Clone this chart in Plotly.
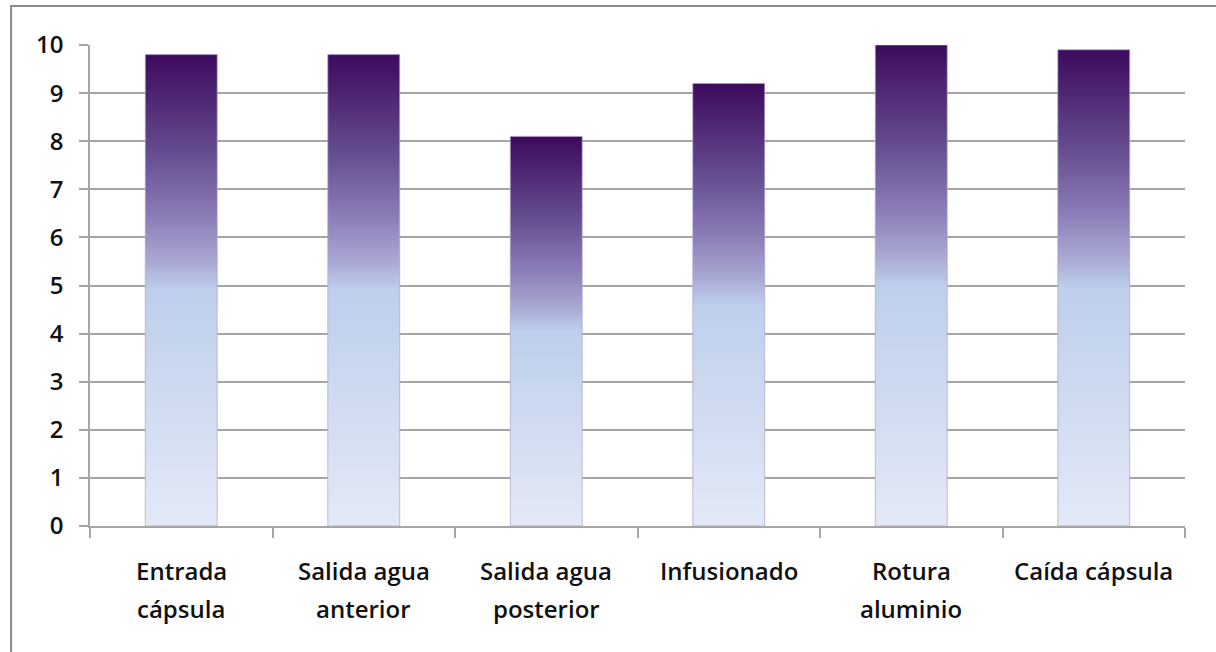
import plotly.graph_objects as go

# Data
label_line1 = ["Entrada", "Salida agua", "Salida agua", "Infusionado", "Rotura", "Caída cápsula"]
label_line2 = ["cápsula", "anterior", "posterior", "", "aluminio", ""]
values = [9.8, 9.8, 8.1, 9.2, 10.0, 9.9]
y_ticks = list(range(0, 11))

gradient = [
    [0.0, "#e3e9f6"],
    [0.3, "#cdd9f0"],
    [0.5, "#bdcfec"],
    [0.56, "#aaa9d4"],
    [0.66, "#8a7bb5"],
    [0.8, "#634a8d"],
    [1.0, "#3d0a5d"],
]

half_w = 0.197
fig = go.Figure()
for i, v in enumerate(values):
    fig.add_trace(go.Scatter(
        x=[i - half_w, i - half_w, i + half_w, i + half_w, i - half_w],
        y=[0, v, v, 0, 0],
        mode="lines",
        fill="toself",
        fillgradient=dict(type="vertical", colorscale=gradient),
        line=dict(color="rgba(175,160,210,0.7)", width=1),
        hoverinfo="skip",
        showlegend=False,
    ))

font_family = "Open Sans"
label_font = dict(family=font_family, size=24, color="#111111", weight=600)
for i, (l1, l2) in enumerate(zip(label_line1, label_line2)):
    fig.add_annotation(x=i, y=-0.0915, xref="x", yref="paper", text=l1,
                       showarrow=False, yanchor="middle", xanchor="center",
                       font=label_font)
    if l2:
        fig.add_annotation(x=i, y=-0.1705, xref="x", yref="paper", text=l2,
                           showarrow=False, yanchor="middle", xanchor="center",
                           font=label_font)

n = len(values)
fig.update_xaxes(
    range=[-0.5, n - 0.5],
    tickvals=[k - 0.5 for k in range(n + 1)],
    ticktext=["" for _ in range(n + 1)],
    ticks="outside", ticklen=10, tickcolor="#a6a6a6", tickwidth=1.5,
    showgrid=False, zeroline=False,
    showline=True, linecolor="#a6a6a6", linewidth=1.5,
)
fig.update_yaxes(
    range=[0, 10],
    tickvals=y_ticks,
    ticks="outside", ticklen=9, tickcolor="#a6a6a6", tickwidth=1.5,
    showgrid=True, gridcolor="#a6a6a6", gridwidth=1.5,
    zeroline=False,
    showline=True, linecolor="#a6a6a6", linewidth=1.5,
    tickfont=dict(family=font_family, size=24, color="#111111", weight=600),
    ticklabelstandoff=11,
)

fig.add_shape(type="rect", xref="paper", yref="paper",
              x0=-0.0721, x1=1.05, y0=-0.32, y1=1.081,
              line=dict(color="#8c8c8c", width=2), fillcolor="rgba(0,0,0,0)",
              layer="below")

fig.update_layout(
    width=1216, height=652,
    margin=dict(l=90, r=31, t=45, b=126),
    paper_bgcolor="white", plot_bgcolor="white",
    font=dict(family=font_family),
)

fig.write_html("out.html",
               config={"displayModeBar": False},
               post_script="document.body.style.margin='0';document.body.style.overflow='hidden';")
